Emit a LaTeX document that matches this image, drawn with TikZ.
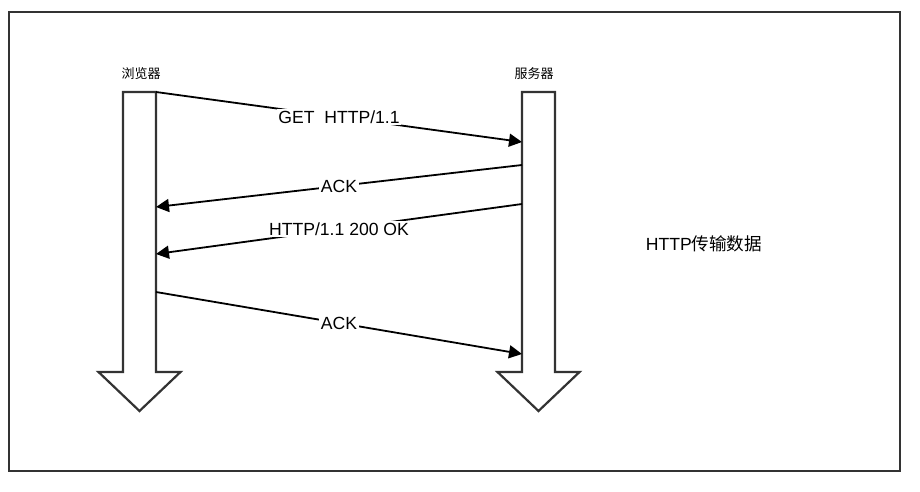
\documentclass[tikz,border=0pt]{standalone}
\usepackage{fontspec}
\setmainfont{Liberation Sans}
\newfontfamily\cjk{Noto Sans CJK SC}
\usepackage{xcolor}
\usetikzlibrary{arrows.meta}
\definecolor{edge}{HTML}{333333}
\tikzset{
lifeline/.style={
draw=edge,
line width=2.2pt,
fill=white
},
msg/.style={
-{Triangle[length=13pt,width=13pt]},
line width=1.8pt
},
msglabel/.style={
fill=white,
inner sep=1.5pt,
font=\fontsize{17.6pt}{20pt}\selectfont
},
role/.style={
font=\fontsize{13pt}{15pt}\selectfont\cjk
}
}
\begin{document}
\begin{tikzpicture}[x=1pt,y=-1pt]
\useasboundingbox (0,0) rectangle (920,491);
\draw[draw=edge,line width=1.6pt] (9,12) rectangle (900,471);

% two lifelines as hollow down arrows
\foreach \c in {139.5,538.5}
\draw[lifeline] (\c-16.5,92) -- (\c+16.5,92) -- (\c+16.5,372) -- (\c+41,372)
  -- (\c,411) -- (\c-41,372) -- (\c-16.5,372) -- cycle;

\node[role](browser) at (141,74){浏览器};
\node[role](server) at (534,74){服务器};

\coordinate (b1) at (156,92);
\coordinate (b2) at (156,207);
\coordinate (b3) at (156,254);
\coordinate (b4) at (156,292);
\coordinate (s1) at (522,142);
\coordinate (s2) at (522,165);
\coordinate (s3) at (522,204);
\coordinate (s4) at (522,354);

\draw[msg](b1)--node[msglabel]{GET\ \ HTTP/1.1}(s1);
\draw[msg](s2)--node[msglabel]{ACK}(b2);
\draw[msg](s3)--node[msglabel]{HTTP/1.1 200 OK}(b3);
\draw[msg](b4)--node[msglabel]{ACK}(s4);

\node[msglabel](title) at (704,244){HTTP{\cjk 传输数据}};
\end{tikzpicture}
\end{document}
